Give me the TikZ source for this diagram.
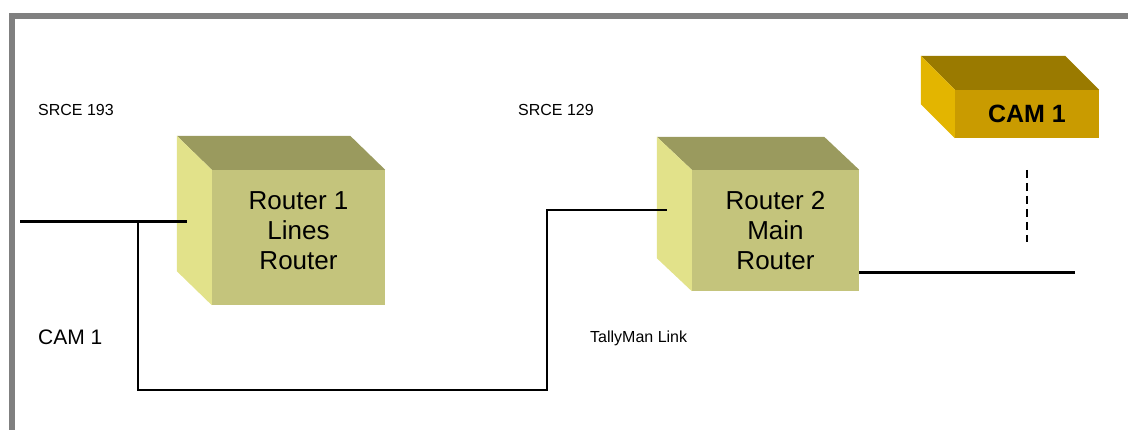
\documentclass[tikz,border=0pt]{standalone}
\usepackage{fontspec}
\setmainfont{Liberation Sans}

\definecolor{routerfront}{HTML}{C4C47C}
\definecolor{routertop}{HTML}{9A9A5E}
\definecolor{routerside}{HTML}{E2E28A}
\definecolor{camfront}{HTML}{C99B00}
\definecolor{camtop}{HTML}{9A7A00}
\definecolor{camside}{HTML}{E3B500}
\definecolor{framegray}{HTML}{808080}

\tikzset{
	routerbox/.style={fill=routerfront, align=center, inner sep=0pt,
		font=\fontsize{26}{30}\selectfont},
	cambox/.style={fill=camfront, inner sep=0pt,
		font=\fontsize{25}{30}\selectfont\bfseries},
	note/.style={anchor=west, inner sep=0pt, font=\fontsize{16}{18}\selectfont},
	bignote/.style={anchor=west, inner sep=0pt, font=\fontsize{21}{24}\selectfont},
	thickline/.style={line width=3pt},
	thinline/.style={line width=1.5pt},
	dashline/.style={line width=2.5pt, dash pattern=on 8pt off 5pt}
}

\begin{document}
\begin{tikzpicture}[x=1pt,y=-1pt]

	\useasboundingbox (0,0) rectangle (1128,430);

	% Frame.
	\draw[framegray, line width=6pt, line join=miter] (11.5,440) -- (11.5,16) -- (1140,16);

	% Node definitions.
	\node[routerbox, minimum width=173pt, minimum height=135pt, text depth=14pt]
		(r1) at (298.5,237.5) {Router 1\\Lines\\Router};
	\node[routerbox, minimum width=167pt, minimum height=121pt]
		(r2) at (775.5,230.5) {Router 2\\Main\\Router};
	\node[cambox, minimum width=144pt, minimum height=48pt]
		(cam) at (1027,114) {CAM 1};

	% Box faces.
	\fill[routertop] (r1.north west) -- ++(-35,-34) -- ([shift={(-35,-34)}]r1.north east) -- (r1.north east) -- cycle;
	\fill[routerside] (r1.north west) -- ++(-35,-34) -- ([shift={(-35,-34)}]r1.south west) -- (r1.south west) -- cycle;
	\fill[routertop] (r2.north west) -- ++(-35,-33) -- ([shift={(-35,-33)}]r2.north east) -- (r2.north east) -- cycle;
	\fill[routerside] (r2.north west) -- ++(-35,-33) -- ([shift={(-35,-33)}]r2.south west) -- (r2.south west) -- cycle;
	\fill[camtop] (cam.north west) -- ++(-34,-34) -- ([shift={(-34,-34)}]cam.north east) -- (cam.north east) -- cycle;
	\fill[camside] (cam.north west) -- ++(-34,-34) -- ([shift={(-34,-34)}]cam.south west) -- (cam.south west) -- cycle;

	% Labels.
	\node[note] (srce193) at (38,110) {SRCE 193};
	\node[note] (srce129) at (518,110) {SRCE 129};
	\node[bignote] (cam1) at (38,337) {CAM 1};
	\node[note] (tally) at (590,338) {TallyMan Link};

	% Connectors.
	\coordinate (r1feed) at (20,222);
	\coordinate (r1in) at (187,222);
	\coordinate (tee) at (138,222);
	\coordinate (linkcorner) at (547,390);
	\coordinate (r2in) at (667,210);
	\coordinate (r2end) at (1075,273);
	\coordinate (camup) at (1027,170);
	\coordinate (camdown) at (1027,242);

	\draw[thickline] (r1feed) -- (r1in);
	\draw[thinline] (tee) |- (linkcorner) |- (r2in);
	\draw[thickline] ([yshift=-42.5pt]r2.east) -- (r2end);
	\draw[dashline] (camup) -- (camdown);

\end{tikzpicture}
\end{document}
